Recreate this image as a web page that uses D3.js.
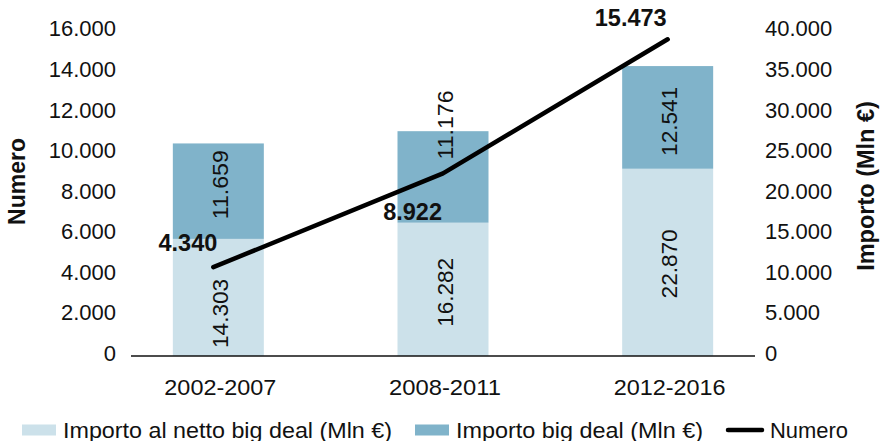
<!DOCTYPE html>
<html>
<head>
<meta charset="utf-8">
<script src="https://cdn.jsdelivr.net/npm/d3@7"></script>
<style>
  body { margin: 0; background: #fff; }
  svg { font-family: "Liberation Sans", Arial, sans-serif; }
  .tick-label { font-size: 22px; fill: #111; }
  .cat-label { font-size: 22px; fill: #111; }
  .seg-label { font-size: 22.5px; fill: #111; }
  .line-label { font-size: 23.5px; font-weight: bold; fill: #111; }
  .title { font-weight: bold; fill: #111; }
  .legend { font-size: 22px; fill: #111; }
</style>
</head>
<body>
<div id="chart"></div>
<script>
window.addEventListener('load', () => {
  let W = 880, H = 441

  // data
  let periods = ['2002-2007', '2008-2011', '2012-2016']
  let importoNetto = [14303, 16282, 22870]
  let importoBigDeal = [11659, 11176, 12541]
  let numero = [4340, 8922, 15473]
  let leftTicks = [0, 2000, 4000, 6000, 8000, 10000, 12000, 14000, 16000]
  let rightTicks = [0, 5000, 10000, 15000, 20000, 25000, 30000, 35000, 40000]

  let colNetto = '#cce1ea'
  let colBig = '#80b3ca'

  let fmt = v => d3.format(',')(v).replace(/,/g, '.')

  let svg = d3.select('#chart').append('svg')
    .attr('width', W)
    .attr('height', H)

  let x = d3.scaleBand().domain(periods).range([106, 780])
  let barW = 91
  let yL = d3.scaleLinear().domain([0, 16000]).range([356, 28.5])
  let yR = d3.scaleLinear().domain([0, 40000]).range([356, 28.5])
  let cx = d => x(d) + x.bandwidth() / 2

  // stacked bars (right axis)
  let stack = periods.map((p, i) => [
    { p, y0: 0, y1: importoNetto[i], v: importoNetto[i], c: colNetto },
    { p, y0: importoNetto[i], y1: importoNetto[i] + importoBigDeal[i], v: importoBigDeal[i], c: colBig }
  ]).flat()

  svg.append('g').selectAll('rect')
    .data(stack)
    .join('rect')
    .attr('x', d => cx(d.p) - barW / 2)
    .attr('width', barW)
    .attr('y', d => yR(d.y1))
    .attr('height', d => yR(d.y0) - yR(d.y1))
    .attr('fill', d => d.c)

  // label nudges, same order as stack (netto, big) per period
  let segNudge = [16, -6.5, 3, -52, 1.5, 4]
  svg.append('g').selectAll('text')
    .data(stack)
    .join('text')
    .attr('class', 'seg-label')
    .attr('text-anchor', 'middle')
    .attr('dominant-baseline', 'central')
    .attr('textLength', 69)
    .attr('lengthAdjust', 'spacingAndGlyphs')
    .attr('transform', (d, i) => {
      let ty = (yR(d.y0) + yR(d.y1)) / 2 + segNudge[i]
      return 'translate(' + (cx(d.p) + 2) + ',' + ty + ') rotate(-90)'
    })
    .text(d => fmt(d.v))

  // baseline
  svg.append('line')
    .attr('x1', 131).attr('x2', 755)
    .attr('y1', yL(0)).attr('y2', yL(0))
    .attr('stroke', '#111')
    .attr('stroke-width', 1.5)

  // numero line (left axis)
  let line = d3.line()
    .x((d, i) => cx(periods[i]) - (i == 0 ? 5 : 0))
    .y(d => yL(d))
  svg.append('path')
    .datum(numero)
    .attr('d', line)
    .attr('fill', 'none')
    .attr('stroke', '#000')
    .attr('stroke-width', 4.5)
    .attr('stroke-linecap', 'round')
    .attr('stroke-linejoin', 'round')

  let lineDy = [-16, 47, -13]
  svg.append('g').selectAll('text')
    .data(numero)
    .join('text')
    .attr('class', 'line-label')
    .attr('text-anchor', 'end')
    .attr('x', (d, i) => cx(periods[i]) - 1)
    .attr('y', (d, i) => yL(d) + lineDy[i])
    .text(d => fmt(d))

  // axes labels
  svg.append('g').selectAll('text')
    .data(leftTicks)
    .join('text')
    .attr('class', 'tick-label')
    .attr('text-anchor', 'end')
    .attr('x', 116)
    .attr('y', d => yL(d) - 3 * (1 - d / 16000))
    .attr('dy', '0.36em')
    .text(d => fmt(d))

  svg.append('g').selectAll('text')
    .data(rightTicks)
    .join('text')
    .attr('class', 'tick-label')
    .attr('text-anchor', 'start')
    .attr('x', 765)
    .attr('y', d => yR(d) - 3 * (1 - d / 40000))
    .attr('dy', '0.36em')
    .text(d => fmt(d))

  svg.append('g').selectAll('text')
    .data(periods)
    .join('text')
    .attr('class', 'cat-label')
    .attr('text-anchor', 'middle')
    .attr('x', d => cx(d) + 2)
    .attr('y', 395)
    .attr('textLength', 112)
    .attr('lengthAdjust', 'spacingAndGlyphs')
    .text(d => d)

  // axis titles
  svg.append('text')
    .attr('class', 'title')
    .attr('font-size', 23)
    .attr('text-anchor', 'middle')
    .attr('dominant-baseline', 'central')
    .attr('transform', 'translate(17,181.5) rotate(-90)')
    .text('Numero')

  svg.append('text')
    .attr('class', 'title')
    .attr('font-size', 23.5)
    .attr('text-anchor', 'middle')
    .attr('dominant-baseline', 'central')
    .attr('transform', 'translate(866,186) rotate(-90)')
    .text('Importo (Mln €)')

  // legend
  let legend = [
    { name: 'Importo al netto big deal (Mln €)', c: colNetto, type: 'rect', x: 22, len: 329 },
    { name: 'Importo big deal (Mln €)', c: colBig, type: 'rect', x: 415, len: 247 },
    { name: 'Numero', c: '#000', type: 'line', x: 727, len: 78 }
  ]
  let lg = svg.append('g').selectAll('g')
    .data(legend)
    .join('g')
    .attr('transform', d => 'translate(' + d.x + ',430)')
  lg.filter(d => d.type == 'rect').append('rect')
    .attr('x', 0).attr('y', -5.5)
    .attr('width', 34).attr('height', 11)
    .attr('fill', d => d.c)
  lg.filter(d => d.type == 'line').append('line')
    .attr('x1', 1).attr('x2', 35)
    .attr('y1', 0).attr('y2', 0)
    .attr('stroke', '#000')
    .attr('stroke-width', 4.5)
    .attr('stroke-linecap', 'round')
  lg.append('text')
    .attr('class', 'legend')
    .attr('x', d => d.type == 'line' ? 43 : 41)
    .attr('dominant-baseline', 'central')
    .attr('textLength', d => d.len)
    .attr('lengthAdjust', 'spacingAndGlyphs')
    .text(d => d.name)
})
</script>
</body>
</html>
